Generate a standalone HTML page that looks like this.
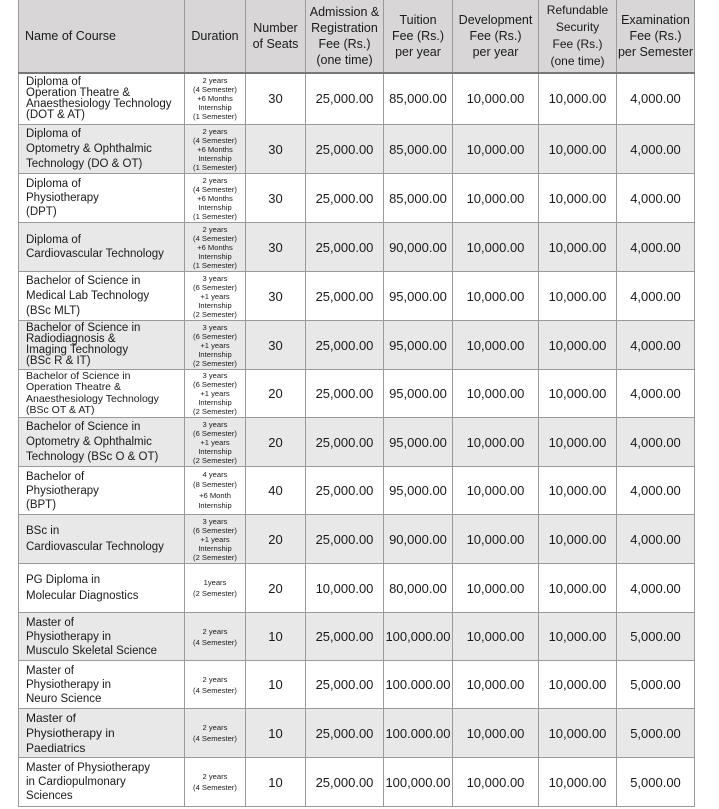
<!DOCTYPE html>
<html><head><meta charset="utf-8"><style>
body{margin:0;background:#fff;width:719px;height:809px;overflow:hidden;font-family:"Liberation Sans",sans-serif;color:#1a1a1a}
table{position:absolute;left:18px;top:-1px;border-collapse:collapse;table-layout:fixed}
td,th{border:1px solid #9a9a9a;padding:0;overflow:hidden}
th{background:#d8d6d6;font-weight:normal;font-size:12.5px;line-height:16px;text-align:center;border-bottom:2px solid #777}
th.n{text-align:left;padding-left:6px}
td{font-size:13px;text-align:center}
td.n{text-align:left;padding-left:7px;font-size:11.5px;line-height:14px}
td.d{font-size:7.6px;line-height:9px}
tr.g td{background:#e8e8e8}
td.t{line-height:11px;font-size:11.5px}
td.s{line-height:11.5px;font-size:10.5px}
</style></head><body>
<table>
<colgroup><col style="width:166px"><col style="width:61px"><col style="width:60px"><col style="width:78px"><col style="width:69px"><col style="width:86px"><col style="width:78px"><col style="width:78px"></colgroup>
<tr style="height:73px"><th class="n">Name of Course</th><th>Duration</th><th>Number<br>of Seats</th><th>Admission &amp;<br>Registration<br>Fee (Rs.)<br>(one time)</th><th>Tuition<br>Fee (Rs.)<br>per year</th><th>Development<br>Fee (Rs.)<br>per year</th><th style="font-size:12px;line-height:17px">Refundable<br>Security<br>Fee (Rs.)<br>(one time)</th><th>Examination<br>Fee (Rs.)<br>per Semester</th></tr>
<tr style="height:52px"><td class="n t">Diploma of<br>Operation Theatre &amp;<br>Anaesthesiology Technology<br>(DOT &amp; AT)</td><td class="d">2 years<br>(4 Semester)<br>+6 Months<br>Internship<br>(1 Semester)</td><td>30</td><td>25,000.00</td><td>85,000.00</td><td>10,000.00</td><td>10,000.00</td><td>4,000.00</td></tr>
<tr class="g" style="height:49px"><td class="n" style="line-height:15px">Diploma of<br>Optometry &amp; Ophthalmic<br>Technology (DO &amp; OT)</td><td class="d">2 years<br>(4 Semester)<br>+6 Months<br>Internship<br>(1 Semester)</td><td>30</td><td>25,000.00</td><td>85,000.00</td><td>10,000.00</td><td>10,000.00</td><td>4,000.00</td></tr>
<tr style="height:49px"><td class="n">Diploma of<br>Physiotherapy<br>(DPT)</td><td class="d">2 years<br>(4 Semester)<br>+6 Months<br>Internship<br>(1 Semester)</td><td>30</td><td>25,000.00</td><td>85,000.00</td><td>10,000.00</td><td>10,000.00</td><td>4,000.00</td></tr>
<tr class="g" style="height:49px"><td class="n">Diploma of<br>Cardiovascular Technology</td><td class="d">2 years<br>(4 Semester)<br>+6 Months<br>Internship<br>(1 Semester)</td><td>30</td><td>25,000.00</td><td>90,000.00</td><td>10,000.00</td><td>10,000.00</td><td>4,000.00</td></tr>
<tr style="height:49px"><td class="n" style="line-height:15px">Bachelor of Science in<br>Medical Lab Technology<br>(BSc MLT)</td><td class="d">3 years<br>(6 Semester)<br>+1 years<br>Internship<br>(2 Semester)</td><td>30</td><td>25,000.00</td><td>95,000.00</td><td>10,000.00</td><td>10,000.00</td><td>4,000.00</td></tr>
<tr class="g" style="height:49px"><td class="n t">Bachelor of Science in<br>Radiodiagnosis &amp;<br>Imaging Technology<br>(BSc R &amp; IT)</td><td class="d">3 years<br>(6 Semester)<br>+1 years<br>Internship<br>(2 Semester)</td><td>30</td><td>25,000.00</td><td>95,000.00</td><td>10,000.00</td><td>10,000.00</td><td>4,000.00</td></tr>
<tr style="height:48px"><td class="n s">Bachelor of Science in<br>Operation Theatre &amp;<br>Anaesthesiology Technology<br>(BSc OT &amp; AT)</td><td class="d">3 years<br>(6 Semester)<br>+1 years<br>Internship<br>(2 Semester)</td><td>20</td><td>25,000.00</td><td>95,000.00</td><td>10,000.00</td><td>10,000.00</td><td>4,000.00</td></tr>
<tr class="g" style="height:49px"><td class="n" style="line-height:15px">Bachelor of Science in<br>Optometry &amp; Ophthalmic<br>Technology (BSc O &amp; OT)</td><td class="d">3 years<br>(6 Semester)<br>+1 years<br>Internship<br>(2 Semester)</td><td>20</td><td>25,000.00</td><td>95,000.00</td><td>10,000.00</td><td>10,000.00</td><td>4,000.00</td></tr>
<tr style="height:48px"><td class="n">Bachelor of<br>Physiotherapy<br>(BPT)</td><td class="d" style="line-height:10.5px">4 years<br>(8 Semester)<br>+6 Month<br>Internship</td><td>40</td><td>25,000.00</td><td>95,000.00</td><td>10,000.00</td><td>10,000.00</td><td>4,000.00</td></tr>
<tr class="g" style="height:49px"><td class="n" style="line-height:16px">BSc in<br>Cardiovascular Technology</td><td class="d">3 years<br>(6 Semester)<br>+1 years<br>Internship<br>(2 Semester)</td><td>20</td><td>25,000.00</td><td>90,000.00</td><td>10,000.00</td><td>10,000.00</td><td>4,000.00</td></tr>
<tr style="height:49px"><td class="n" style="line-height:16px">PG Diploma in<br>Molecular Diagnostics</td><td class="d" style="line-height:11px">1years<br>(2 Semester)</td><td>20</td><td>10,000.00</td><td>80,000.00</td><td>10,000.00</td><td>10,000.00</td><td>4,000.00</td></tr>
<tr class="g" style="height:48px"><td class="n">Master of<br>Physiotherapy in<br>Musculo Skeletal Science</td><td class="d" style="line-height:11px">2 years<br>(4 Semester)</td><td>10</td><td>25,000.00</td><td>100,000.00</td><td>10,000.00</td><td>10,000.00</td><td>5,000.00</td></tr>
<tr style="height:48px"><td class="n">Master of<br>Physiotherapy in<br>Neuro Science</td><td class="d" style="line-height:11px">2 years<br>(4 Semester)</td><td>10</td><td>25,000.00</td><td>100.000.00</td><td>10,000.00</td><td>10,000.00</td><td>5,000.00</td></tr>
<tr class="g" style="height:49px"><td class="n" style="font-size:12px;line-height:15px">Master of<br>Physiotherapy in<br>Paediatrics</td><td class="d" style="line-height:11px">2 years<br>(4 Semester)</td><td>10</td><td>25,000.00</td><td>100.000.00</td><td>10,000.00</td><td>10,000.00</td><td>5,000.00</td></tr>
<tr style="height:49px"><td class="n">Master of Physiotherapy<br>in Cardiopulmonary<br>Sciences</td><td class="d" style="line-height:11px">2 years<br>(4 Semester)</td><td>10</td><td>25,000.00</td><td>100,000.00</td><td>10,000.00</td><td>10,000.00</td><td>5,000.00</td></tr>
</table>
</body></html>
